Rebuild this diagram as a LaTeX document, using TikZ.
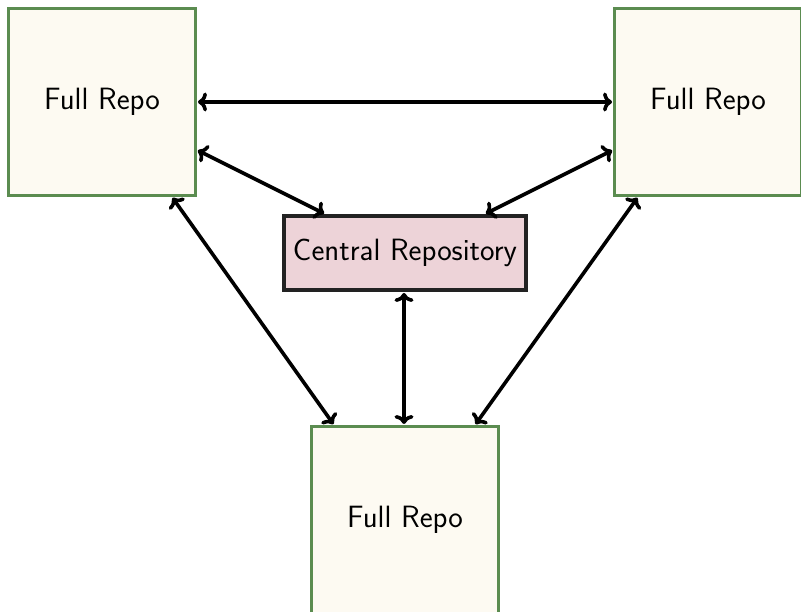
\documentclass[tikz,border=0pt]{standalone}
\usepackage{fontspec}
\usetikzlibrary{arrows.meta}
\definecolor{repofill}{HTML}{FDFAF2}
\definecolor{repoedge}{HTML}{5B8C50}
\definecolor{centralfill}{HTML}{EDD3D8}
\definecolor{centraledge}{HTML}{222222}
\tikzset{
  repobox/.style={draw=repoedge, fill=repofill, line width=3pt, minimum width=187pt, minimum height=187pt, inner sep=0pt, font=\sffamily\fontsize{30.8}{36}\selectfont},
  centralbox/.style={draw=centraledge, fill=centralfill, line width=4pt, minimum width=242pt, minimum height=74pt, inner sep=0pt, font=\sffamily\fontsize{30.8}{36}\selectfont},
  link/.style={line width=3.6pt, {Computer Modern Rightarrow[length=9pt,width=19pt]}-{Computer Modern Rightarrow[length=9pt,width=19pt]}, shorten <=1pt, shorten >=1pt}
}
\begin{document}
\begin{tikzpicture}[x=1pt,y=1pt]
\useasboundingbox (0,0) rectangle (801,612);
\node[repobox] (L) at (102,510) {Full Repo};
\node[repobox] (R) at (708,510) {Full Repo};
\node[repobox] (B) at (405,92) {Full Repo};
\node[centralbox] (C) at (405,359) {Central Repository};
\draw[link] (L.east) -- (R.west);
\draw[link] ([yshift=-48pt]L.east) -- (C.north -| 325,0);
\draw[link] ([yshift=-48pt]R.west) -- (C.north -| 485,0);
\draw[link] (L.south -| 172,0) -- (B.north -| 334,0);
\draw[link] (R.south -| 638,0) -- (B.north -| 475,0);
\draw[link] (C.south -| 404,0) -- (B.north -| 404,0);
\end{tikzpicture}
\end{document}
